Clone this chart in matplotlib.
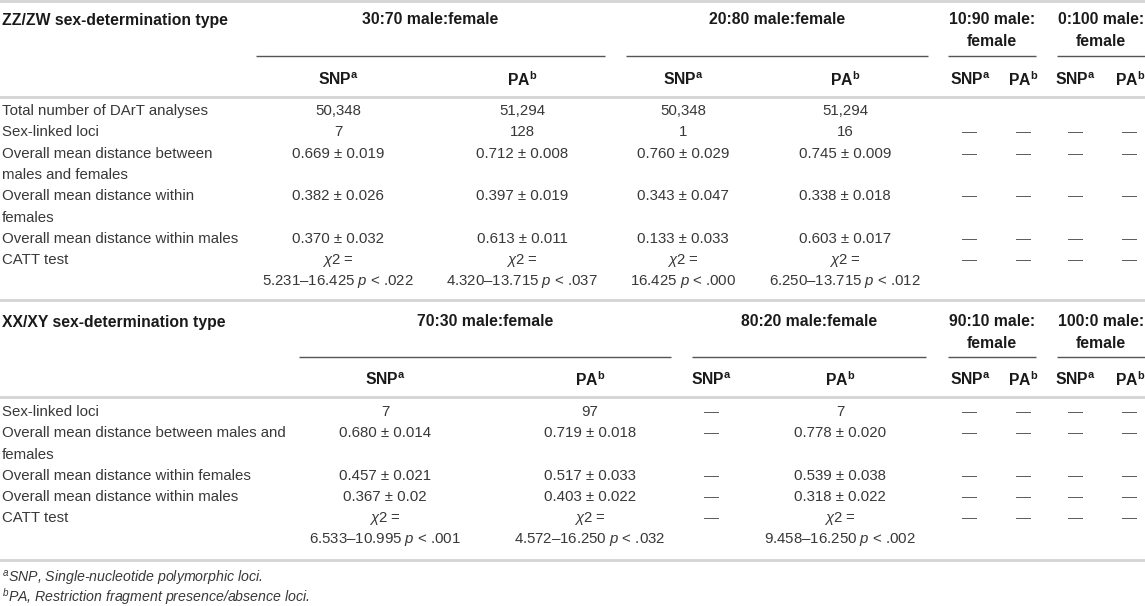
import matplotlib.pyplot as plt

plt.rcParams['font.family'] = ['Liberation Sans', 'DejaVu Sans']
plt.rcParams['mathtext.fontset'] = 'custom'
plt.rcParams['mathtext.rm'] = 'Liberation Sans'
plt.rcParams['mathtext.it'] = 'Liberation Sans:italic'
plt.rcParams['mathtext.bf'] = 'Liberation Sans:bold'

# ---- data: ZZ/ZW table ----
zz_title = 'ZZ/ZW sex-determination type'
zz_groups = ['30:70 male:female', '20:80 male:female', '10:90 male:\nfemale', '0:100 male:\nfemale']
zz_labels = ['Total number of DArT analyses',
             'Sex-linked loci',
             'Overall mean distance between\nmales and females',
             'Overall mean distance within\nfemales',
             'Overall mean distance within males',
             'CATT test']
zz_snp_3070 = ['50,348', '7', '0.669 ± 0.019', '0.382 ± 0.026', '0.370 ± 0.032',
               '$\\chi$2 =\n5.231–16.425 $p$ < .022']
zz_pa_3070 = ['51,294', '128', '0.712 ± 0.008', '0.397 ± 0.019', '0.613 ± 0.011',
              '$\\chi$2 =\n4.320–13.715 $p$ < .037']
zz_snp_2080 = ['50,348', '1', '0.760 ± 0.029', '0.343 ± 0.047', '0.133 ± 0.033',
               '$\\chi$2 =\n16.425 $p$ < .000']
zz_pa_2080 = ['51,294', '16', '0.745 ± 0.009', '0.338 ± 0.018', '0.603 ± 0.017',
              '$\\chi$2 =\n6.250–13.715 $p$ < .012']
zz_snp_1090 = ['', '—', '—', '—', '—', '—']
zz_pa_1090 = ['', '—', '—', '—', '—', '—']
zz_snp_0100 = ['', '—', '—', '—', '—', '—']
zz_pa_0100 = ['', '—', '—', '—', '—', '—']

# ---- data: XX/XY table ----
xy_title = 'XX/XY sex-determination type'
xy_groups = ['70:30 male:female', '80:20 male:female', '90:10 male:\nfemale', '100:0 male:\nfemale']
xy_labels = ['Sex-linked loci',
             'Overall mean distance between males and\nfemales',
             'Overall mean distance within females',
             'Overall mean distance within males',
             'CATT test']
xy_snp_7030 = ['7', '0.680 ± 0.014', '0.457 ± 0.021', '0.367 ± 0.02',
               '$\\chi$2 =\n6.533–10.995 $p$ < .001']
xy_pa_7030 = ['97', '0.719 ± 0.018', '0.517 ± 0.033', '0.403 ± 0.022',
              '$\\chi$2 =\n4.572–16.250 $p$ < .032']
xy_snp_8020 = ['—', '—', '—', '—', '—']
xy_pa_8020 = ['7', '0.778 ± 0.020', '0.539 ± 0.038', '0.318 ± 0.022',
              '$\\chi$2 =\n9.458–16.250 $p$ < .002']
xy_snp_9010 = ['—', '—', '—', '—', '—']
xy_pa_9010 = ['—', '—', '—', '—', '—']
xy_snp_1000 = ['—', '—', '—', '—', '—']
xy_pa_1000 = ['—', '—', '—', '—', '—']

sub_headers = ['SNP$^{\\mathbf{a}}$', 'PA$^{\\mathbf{b}}$'] * 4
footnotes = ['$^{a}$SNP, Single-nucleotide polymorphic loci.',
             '$^{b}$PA, Restriction fragment presence/absence loci.']

# ---- layout ----
W, H = 1145, 606
fig = plt.figure(figsize=(W / 100, H / 100), dpi=100)
ax = fig.add_axes([0, 0, 1, 1])
ax.set_xlim(0, W)
ax.set_ylim(H, 0)
ax.axis('off')

FS = 10.8
TXT = '#383838'
HEAD = '#1a1a1a'
DASH = '#5a5a5a'
LINE_LIGHT = '#d4d4d4'
LINE_DARK = '#555555'
STEP = 21.3


def put_lines(x, y, s, ha='center', **kw):
    for i, part in enumerate(s.split('\n')):
        ax.text(x, y + i * STEP, part, ha=ha, va='center', **kw)


def draw_table(title, groups, spans, col_x, labels, cols, y0, y_under, y_sub, y_rule, y_first):
    ax.text(2, y0, title, ha='left', va='center', fontsize=FS + 0.5,
            fontweight='bold', color=HEAD)
    for g, (a, b) in zip(groups, spans):
        put_lines((a + b) / 2, y0, g, fontsize=FS + 0.5, fontweight='bold', color=HEAD)
        ax.plot([a, b], [y_under, y_under], color=LINE_DARK, lw=1.0, solid_capstyle='butt')
    for x, s in zip(col_x, sub_headers):
        ax.text(x, y_sub, s, ha='center', va='center', fontsize=FS + 0.5,
                fontweight='bold', color=HEAD)
    ax.plot([0, W], [y_rule, y_rule], color=LINE_LIGHT, lw=2.0)
    y = y_first
    for r, lab in enumerate(labels):
        put_lines(2, y, lab, ha='left', fontsize=FS, color=TXT)
        for x, col in zip(col_x, cols):
            v = col[r]
            if v == '—':
                put_lines(x, y, v, fontsize=FS, color=DASH)
            elif v:
                put_lines(x, y, v, fontsize=FS, color=TXT)
        nl = max([lab.count('\n')] + [c[r].count('\n') for c in cols]) + 1
        y += nl * STEP


# top rule
ax.plot([0, W], [1, 1], color=LINE_LIGHT, lw=2.0)

zz_spans = [(256, 605), (626, 928), (948, 1036), (1057, 1145)]
zz_x = [338, 522, 683, 845, 970, 1023, 1075, 1130]
draw_table(zz_title, zz_groups, zz_spans, zz_x, zz_labels,
           [zz_snp_3070, zz_pa_3070, zz_snp_2080, zz_pa_2080,
            zz_snp_1090, zz_pa_1090, zz_snp_0100, zz_pa_0100],
           y0=20, y_under=56, y_sub=80, y_rule=97, y_first=111)

ax.plot([0, W], [300, 300], color=LINE_LIGHT, lw=2.0)

xy_spans = [(299, 671), (692, 926), (948, 1036), (1057, 1145)]
xy_x = [385, 590, 711, 840, 970, 1023, 1075, 1130]
draw_table(xy_title, xy_groups, xy_spans, xy_x, xy_labels,
           [xy_snp_7030, xy_pa_7030, xy_snp_8020, xy_pa_8020,
            xy_snp_9010, xy_pa_9010, xy_snp_1000, xy_pa_1000],
           y0=322, y_under=357, y_sub=380, y_rule=397, y_first=412)

ax.plot([0, W], [560, 560], color=LINE_LIGHT, lw=2.0)

for i, note in enumerate(footnotes):
    ax.text(2, 578 + i * 18.5, note, ha='left', va='center', fontsize=FS - 0.6,
            style='italic', color=TXT)

fig.savefig('out.png', dpi=100)
